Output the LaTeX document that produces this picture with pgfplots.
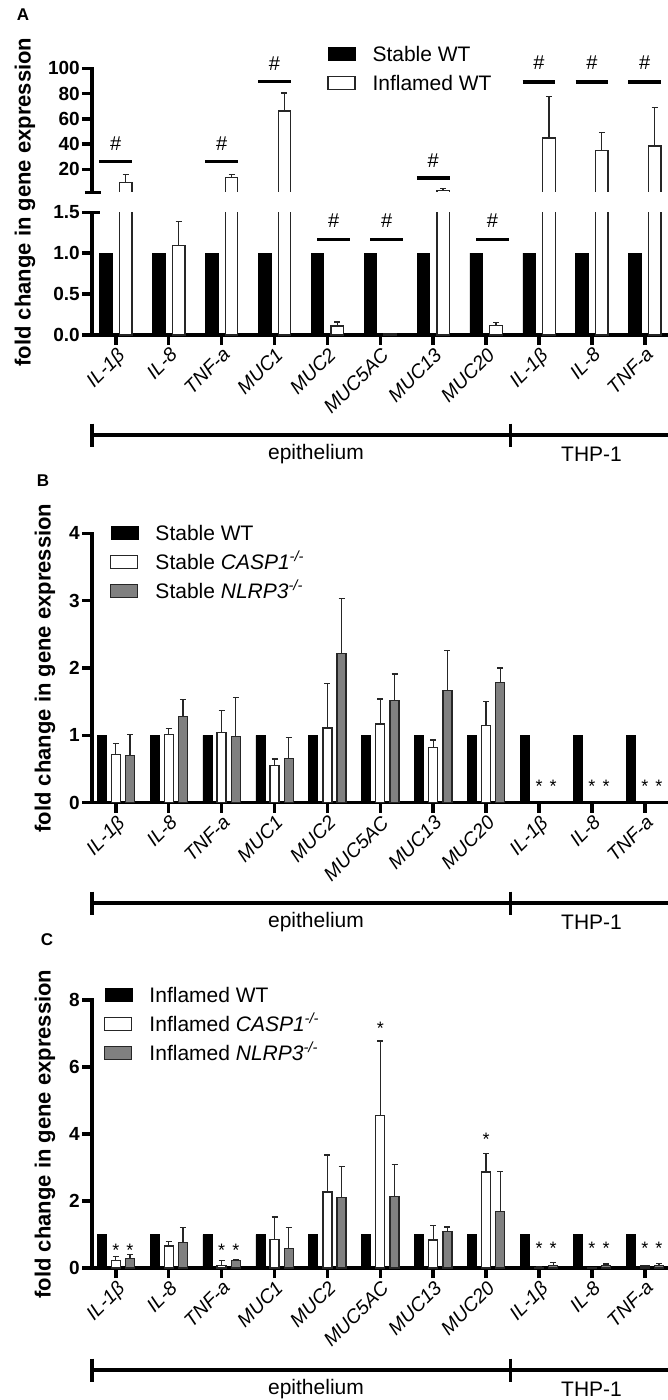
\documentclass[border=0pt]{standalone}
\usepackage{fontspec}
\setmainfont{Liberation Sans}
\usepackage{pgfplots}
\usepackage{pgfplotstable}
\pgfplotsset{compat=1.18}

\newcommand\fs[1]{\fontsize{#1}{#1}\selectfont}
% significance bar + hash: centre, half-width left, half-width right, bar height, text height
\newcommand\hashmark[5]{%
  \draw[line width=3.5pt] (axis cs:#1-#2,#4) -- (axis cs:#1+#3,#4);
  \node[font=\fs{20}] at (axis cs:#1+#3/2-#2/2,#5) {\#};}
\newcommand\sig[2]{\node[font=\fs{18}] at (axis cs:#1,#2) {*};}

% stable / inflamed WT reference = 1
\pgfplotstableread{
x y
0 1
1 1
2 1
3 1
4 1
5 1
6 1
7 1
8 1
9 1
10 1
}\wt

% panel A: inflamed WT
\pgfplotstableread{
x y e
0 9.5 6.5
1 1.09 0.295
2 13.4 2.6
3 66.2 14.2
4 0.11 0.05
5 0.015 0.005
6 3.4 1.3
7 0.12 0.035
8 44.8 32.8
9 34.8 14.2
10 38.5 30.3
}\Ainf

% panel B
\pgfplotstableread{
x y e
0 0.72 0.16
1 1.01 0.09
2 1.04 0.33
3 0.55 0.10
4 1.11 0.66
5 1.17 0.37
6 0.82 0.11
7 1.15 0.35
}\Bcasp
\pgfplotstableread{
x y e
0 0.70 0.31
1 1.28 0.25
2 0.98 0.58
3 0.66 0.31
4 2.22 0.81
5 1.52 0.39
6 1.67 0.59
7 1.78 0.22
}\Bnlrp

% panel C
\pgfplotstableread{
x y e
0 0.22 0.13
1 0.66 0.14
2 0.08 0.14
3 0.86 0.66
4 2.27 1.10
5 4.55 2.23
6 0.84 0.42
7 2.87 0.54
8 0.02 0.01
9 0.01 0.00
10 0.06 0.02
}\Ccasp
\pgfplotstableread{
x y e
0 0.28 0.12
1 0.77 0.43
2 0.22 0.04
3 0.58 0.62
4 2.10 0.94
5 2.14 0.96
6 1.10 0.12
7 1.68 1.20
8 0.07 0.10
9 0.07 0.05
10 0.07 0.07
}\Cnlrp

\pgfplotsset{
  base/.style={
    scale only axis, x=52.9pt, xmin=-0.45, xmax=10.45,
    enlargelimits=false, clip mode=individual,
    axis y line*=left,
    axis line style={-, line width=3.5pt, line cap=rect},
    tick align=outside, major tick length=10pt,
    tick style={black, line width=3.5pt},
    /pgf/number format/assume math mode=true,
    yticklabel style={font=\fs{19}\bfseries, inner sep=2pt},
    xtick={0,...,10},
    xticklabels={IL-1β,IL-8,TNF-a,MUC1,MUC2,MUC5AC,MUC13,MUC20,IL-1β,IL-8,TNF-a},
    xticklabel style={rotate=45, anchor=north east, font=\fs{19.5}\itshape, inner sep=1pt},
    legend cell align=left,
    legend style={draw=none, fill=none, anchor=north west, font=\fs{21},
      inner sep=0pt, row sep=9pt,
      nodes={inner sep=0pt, text height=15pt, text depth=5pt},
      /tikz/every odd column/.append style={column sep=17pt}},
  },
  errs/.style={error bars/.cd, y dir=plus, y explicit,
    error bar style={line width=1.3pt, black!85},
    error mark options={rotate=90, mark size=3pt, line width=1.3pt, black!85}},
  bk/.style={fill=black, draw=black, line width=0.6pt,
    legend image code/.code={\draw[fill=black,draw=black] (0pt,-4pt) rectangle (27pt,9pt);}},
  wh/.style={fill=white, draw=black!85, line width=1.3pt,
    legend image code/.code={\draw[fill=white,draw=black!85,line width=1.3pt] (0pt,-4pt) rectangle (27pt,9pt);}},
  gr/.style={fill=black!50, draw=black!85, line width=1.3pt,
    legend image code/.code={\draw[fill=black!50,draw=black!85,line width=1.3pt] (0pt,-4pt) rectangle (27pt,9pt);}},
}

\begin{document}
\begin{tikzpicture}
\path[use as bounding box] (0,0) rectangle (667pt,-1400pt);

% ---------------- panel A, upper segment (broken axis 1.5 .. 100)
\begin{axis}[base, at={(92pt,-192.7pt)}, anchor=south west,
  y=1.2625pt, ymin=1.5, ymax=100, axis x line=none,
  ytick={20,40,60,80,100}, ybar=7.3pt, bar width=12.5pt,
  legend style={at={(axis description cs:0.4076,1.179)}}]
\addplot[bk, draw=none, fill=none] table[x=x,y=y] {\wt};
\addplot[wh, restrict y to domain=1.5:1000, errs] table[x=x,y=y,y error=e] {\Ainf};
\legend{Stable WT, Inflamed WT}
% open the bar bottoms at the break
\fill[white] ([yshift=-2pt]axis cs:-0.3,1.5) rectangle ([yshift=1pt]axis cs:10.45,1.5);
\draw[line width=3.5pt] ([xshift=-7pt]axis cs:-0.45,1.5) -- ([xshift=9pt]axis cs:-0.45,1.5);
\hashmark{0}{0.31}{0.31}{26.1}{40.3}
\hashmark{2}{0.31}{0.31}{26.1}{40.3}
\hashmark{3}{0.31}{0.31}{89.5}{103.7}
\hashmark{6}{0.31}{0.31}{13.1}{27.1}
\hashmark{8}{0.31}{0.31}{89.2}{104.4}
\hashmark{9}{0.31}{0.31}{89.2}{104.4}
\hashmark{10}{0.31}{0.31}{89.2}{104.4}
\end{axis}

% ---------------- panel A, lower segment (0 .. 1.5)
\begin{axis}[base, at={(92pt,-335pt)}, anchor=south west,
  y=81.8pt, ymin=0, ymax=1.5, axis x line*=bottom,
  ytick={0,0.5,1,1.5},
  /pgf/number format/fixed, /pgf/number format/fixed zerofill,
  /pgf/number format/precision=1,
  ybar=7.3pt, bar width=12.5pt]
\addplot[bk] table[x=x,y=y] {\wt};
\addplot[wh, errs] table[x=x,y=y,y error=e] {\Ainf};
\draw[line width=3.5pt] ([xshift=-6pt]axis cs:-0.45,1.5) -- ([xshift=8pt]axis cs:-0.45,1.5);
\hashmark{4}{0.19}{0.43}{1.17}{1.40}
\hashmark{5}{0.19}{0.43}{1.17}{1.40}
\hashmark{7}{0.19}{0.43}{1.17}{1.40}
\end{axis}

% ---------------- panel B
\begin{axis}[base, at={(92pt,-802.7pt)}, anchor=south west,
  y=67.35pt, ymin=0, ymax=4, axis x line*=bottom,
  ytick={0,1,2,3,4}, ybar=5.2pt, bar width=9pt,
  legend style={at={(axis description cs:0.0312,1.031)}}]
\addplot[bk] table[x=x,y=y] {\wt};
\addplot[wh, errs] table[x=x,y=y,y error=e] {\Bcasp};
\addplot[gr, errs] table[x=x,y=y,y error=e] {\Bnlrp};
\legend{Stable WT, Stable \textit{CASP1}\textsuperscript{\textit{-/-}}, Stable \textit{NLRP3}\textsuperscript{\textit{-/-}}}
\sig{8}{0.24}\sig{8.268}{0.24}
\sig{9}{0.24}\sig{9.268}{0.24}
\sig{10}{0.24}\sig{10.268}{0.24}
\end{axis}

% ---------------- panel C
\begin{axis}[base, at={(92pt,-1268pt)}, anchor=south west,
  y=33.5pt, ymin=0, ymax=8, axis x line*=bottom,
  ytick={0,2,4,6,8}, ybar=5.2pt, bar width=9pt,
  legend style={at={(axis description cs:0.0208,1.0485)}}]
\addplot[bk] table[x=x,y=y] {\wt};
\addplot[wh, errs] table[x=x,y=y,y error=e] {\Ccasp};
\addplot[gr, errs] table[x=x,y=y,y error=e] {\Cnlrp};
\legend{Inflamed WT, Inflamed \textit{CASP1}\textsuperscript{\textit{-/-}}, Inflamed \textit{NLRP3}\textsuperscript{\textit{-/-}}}
\sig{0}{0.52}\sig{0.268}{0.52}
\sig{2}{0.52}\sig{2.268}{0.52}
\sig{8}{0.58}\sig{8.268}{0.58}
\sig{9}{0.58}\sig{9.268}{0.58}
\sig{10}{0.58}\sig{10.268}{0.58}
\sig{5}{7.15}
\sig{7}{3.85}
\end{axis}

% ---------------- group brackets, labels
\foreach \yy in {435,903,1370}{
  \draw[line width=3.5pt] (92pt,-\yy pt) -- (670pt,-\yy pt);
  \draw[line width=3.5pt] (92pt,-\yy pt+11.5pt) -- (92pt,-\yy pt-11.5pt);
  \draw[line width=3.5pt] (510.6pt,-\yy pt+11.5pt) -- (510.6pt,-\yy pt-11.5pt);
  \node[font=\fs{21}] at (316pt,-\yy pt-19pt) {epithelium};
  \node[font=\fs{21}] at (591.5pt,-\yy pt-19pt) {THP-1};
}

\node[rotate=90, font=\fs{22}\bfseries] at (25pt,-202pt) {fold change in gene expression};
\node[rotate=90, font=\fs{22}\bfseries] at (45pt,-668pt) {fold change in gene expression};
\node[rotate=90, font=\fs{22}\bfseries] at (45pt,-1134pt) {fold change in gene expression};

\node[font=\fs{17}\bfseries] at (23pt,-15pt) {A};
\node[font=\fs{17}\bfseries] at (43pt,-481pt) {B};
\node[font=\fs{17}\bfseries] at (47pt,-940pt) {C};
\end{tikzpicture}
\end{document}
